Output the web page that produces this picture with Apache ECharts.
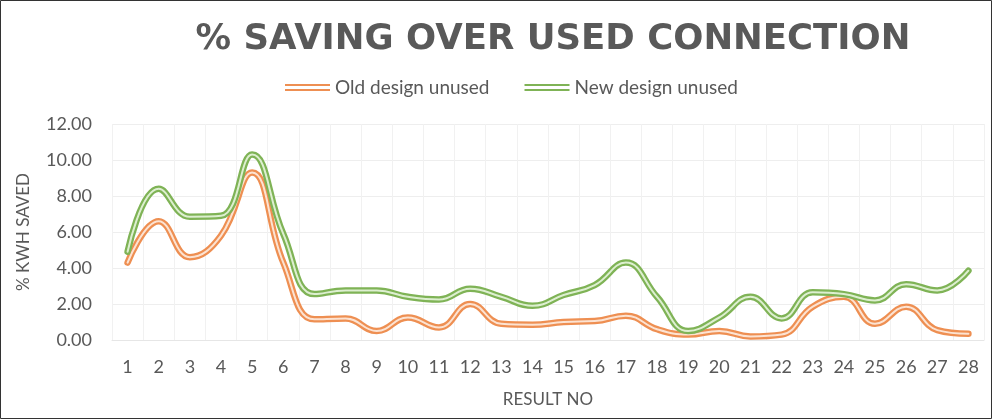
<!DOCTYPE html>
<html>
<head>
<meta charset="utf-8">
<script src="https://cdn.jsdelivr.net/npm/echarts@6/dist/echarts.min.js"></script>
<style>html,body{margin:0;padding:0;background:#fff}#c{width:992px;height:419px}</style>
</head>
<body>
<div id="c"></div>
<script>
var categories = ['1','2','3','4','5','6','7','8','9','10','11','12','13','14','15','16','17','18','19','20','21','22','23','24','25','26','27','28'];
var oldDesign = [4.3, 6.6, 4.6, 5.8, 9.3, 4.3, 1.15, 1.2, 0.5, 1.25, 0.7, 2.0, 0.9, 0.85, 1.0, 1.05, 1.35, 0.6, 0.3, 0.5, 0.2, 0.3, 1.85, 2.4, 0.9, 1.85, 0.55, 0.35];
var newDesign = [4.9, 8.4, 6.85, 6.9, 10.3, 5.9, 2.55, 2.75, 2.75, 2.4, 2.25, 2.85, 2.4, 1.9, 2.5, 3.05, 4.3, 2.4, 0.5, 1.25, 2.4, 1.2, 2.65, 2.55, 2.2, 3.1, 2.75, 3.85];
var yTicks = {min: 0, max: 12, interval: 2};

var chart = echarts.init(document.getElementById('c'), null, {renderer: 'canvas'});
var labelFont = 'Lato';
function lineSeries(name, data, color, width, silent) {
  return {
    name: name, type: 'line', data: data, smooth: 0.45, symbol: 'none',
    silent: silent, lineStyle: {color: color, width: width, cap: 'round', join: 'round'},
    itemStyle: {color: color}
  };
}
chart.setOption({
  animation: false,
  backgroundColor: '#ffffff',
  title: {
    text: '% SAVING OVER USED CONNECTION',
    left: 548, top: 17, textAlign: 'center',
    textStyle: {fontFamily: 'DejaVu Sans', fontWeight: 'bold', fontSize: 35.5, color: '#595959'}
  },
  legend: {
    data: ['Old design unused', 'New design unused'],
    top: 73, left: 280, itemWidth: 45, itemHeight: 7, itemGap: 35,
    icon: 'path://M0,0H45V2H0Z M0,5H45V7H0Z',
    textStyle: {fontFamily: labelFont, fontSize: 19, color: '#595959'}
  },
  grid: {left: 112, right: 8, top: 124, bottom: 79},
  xAxis: {
    type: 'category', data: categories, boundaryGap: true,
    name: 'RESULT NO', nameLocation: 'middle', nameGap: 51,
    nameTextStyle: {fontFamily: labelFont, fontSize: 17, color: '#595959'},
    axisLine: {lineStyle: {color: '#e6e6e6'}}, axisTick: {show: false},
    axisLabel: {fontFamily: labelFont, fontSize: 18, color: '#595959', margin: 18},
    splitLine: {show: true, lineStyle: {color: '#f1f1f1'}}
  },
  yAxis: {
    type: 'value', min: yTicks.min, max: yTicks.max, interval: yTicks.interval,
    name: '% KWH SAVED', nameLocation: 'middle', nameGap: 80,
    nameTextStyle: {fontFamily: labelFont, fontSize: 17, color: '#595959'},
    axisLine: {show: false}, axisTick: {show: false},
    axisLabel: {fontFamily: labelFont, fontSize: 18, color: '#595959', margin: 20,
      formatter: function (v) { return v.toFixed(2); }},
    splitLine: {lineStyle: {color: '#eeeeee'}}
  },
  graphic: [{type: 'rect', shape: {x: 0.5, y: 0.5, width: 991, height: 418}, style: {fill: 'none', stroke: '#333', lineWidth: 1}, silent: true}],
  series: [
    lineSeries('Old design unused', oldDesign, '#EE8F52', 6.5, false),
    lineSeries('old-inner', oldDesign, '#FCE3D2', 2, true),
    lineSeries('New design unused', newDesign, '#7FB356', 6.5, false),
    lineSeries('new-inner', newDesign, '#DDEFD0', 2, true)
  ]
});
</script>
</body>
</html>
